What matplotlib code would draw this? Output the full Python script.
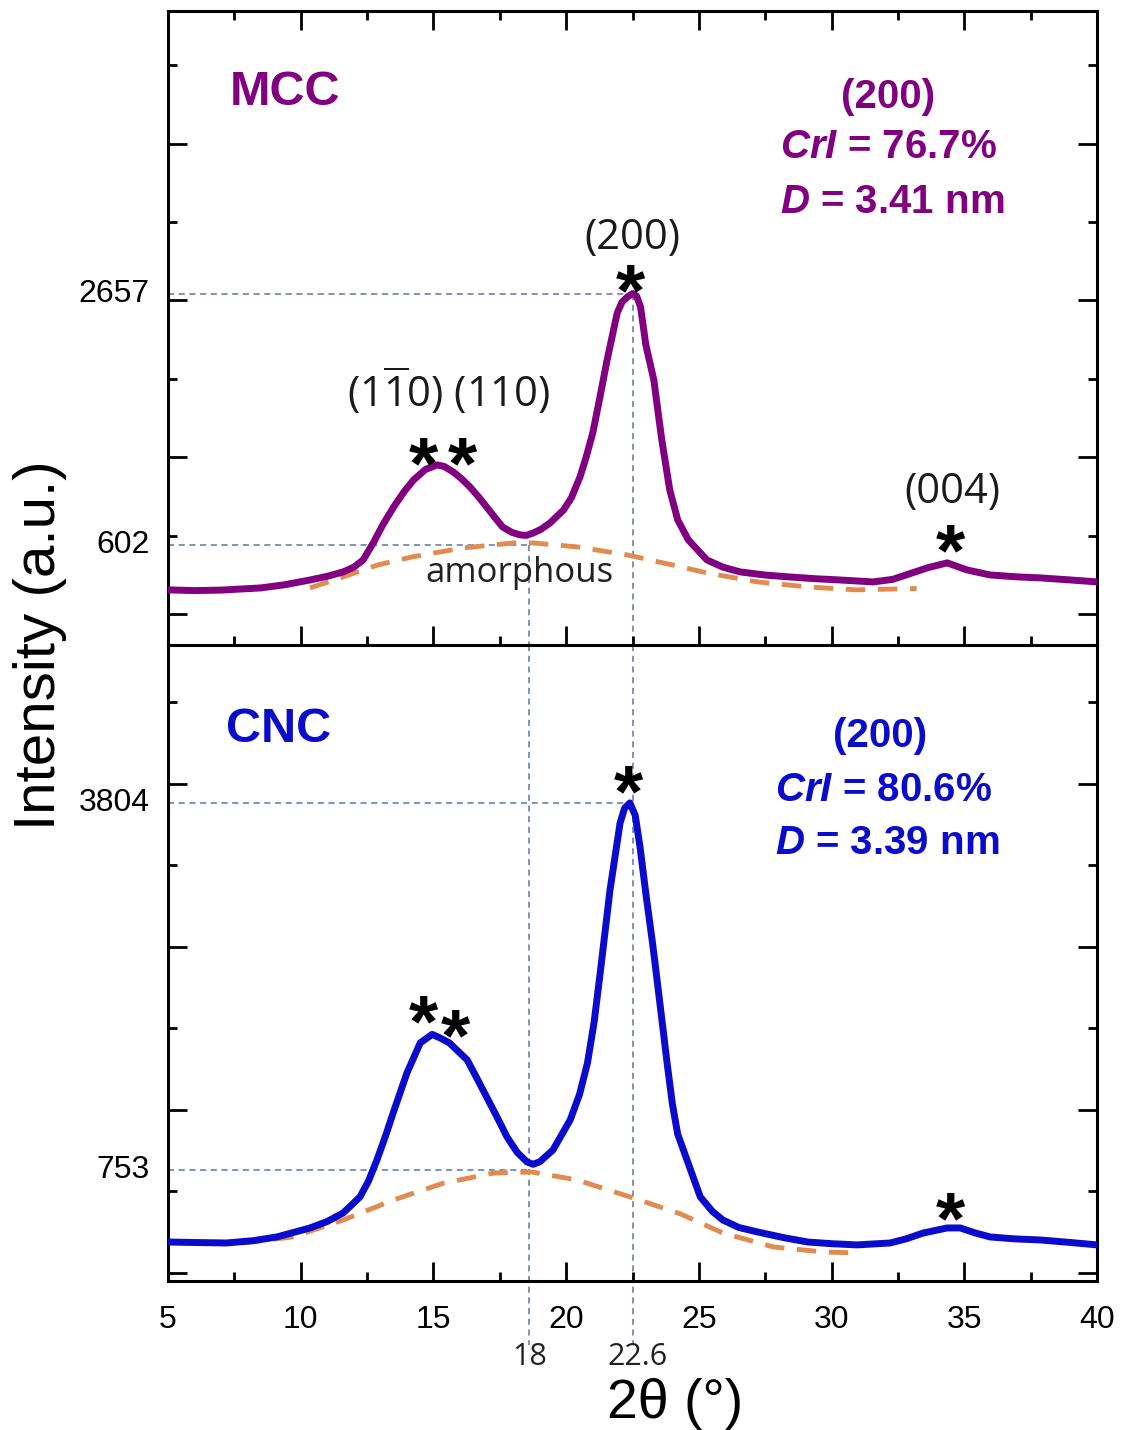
import matplotlib
matplotlib.use('Agg')
import matplotlib.pyplot as plt
import matplotlib.transforms as mtransforms

plt.rcParams['font.family'] = ['Liberation Sans', 'DejaVu Sans']
plt.rcParams['mathtext.fontset'] = 'custom'
plt.rcParams['mathtext.rm'] = 'Open Sans'
plt.rcParams['mathtext.bfit'] = 'Liberation Sans:italic:bold'

# ---- MCC pattern ----
mcc_theta = [5.0, 6.0, 7.0, 8.0, 8.5, 9.4, 10.35, 11.0, 11.6, 12.0, 12.35, 12.73,
             13.1, 13.5, 13.9, 14.25, 14.7, 15.13, 15.4, 15.74, 16.05, 16.37, 16.7,
             17.0, 17.3, 17.6, 17.95, 18.26, 18.5, 18.76, 19.05, 19.39, 19.9, 20.2,
             20.52, 20.75, 21.0, 21.25, 21.54, 21.92, 22.1, 22.3, 22.5, 22.65, 22.8,
             23.0, 23.3, 23.6, 23.9, 24.2, 24.6, 25.3, 25.9, 26.55, 27.5, 28.4, 29.4,
             30.3, 31.56, 32.3, 32.8, 33.6, 34.35, 35.1, 35.97, 37.0, 37.86, 39.0, 40.0]
mcc_counts = [234, 228, 232, 244, 250, 276, 315, 345, 381, 420, 479, 618,
              770, 913, 1040, 1134, 1220, 1257, 1245, 1200, 1145, 1077, 995,
              913, 830, 749, 705, 684, 680, 700, 730, 782, 888, 990,
              1159, 1320, 1519, 1790, 2116, 2501, 2590, 2632, 2660, 2640, 2551,
              2239, 1953, 1462, 1052, 807, 643, 479, 420, 381, 355, 340, 325,
              315, 299, 320, 356, 414, 455, 397, 356, 340, 332, 315, 299]
mcc_amor_theta = [10.35, 11.6, 12.9, 14.2, 16.1, 18.0, 18.76, 20.4, 22.3, 24.0,
                  25.3, 27.2, 29.1, 30.9, 33.2]
mcc_amor = [250, 340, 438, 504, 577, 618, 618, 586, 520, 438, 373, 299, 258, 234, 245]

# ---- CNC pattern ----
cnc_theta = [5.0, 6.0, 7.2, 8.2, 9.1, 10.35, 11.0, 11.6, 12.23, 12.55, 12.87, 13.2,
             13.48, 14.0, 14.5, 14.95, 15.25, 15.6, 16.27, 16.6, 17.0, 17.4, 17.77,
             18.15, 18.52, 18.75, 19.0, 19.5, 20.15, 20.5, 20.8, 21.05, 21.28, 21.65,
             22.03, 22.2, 22.4, 22.6, 22.78, 23.0, 23.27, 23.55, 23.8, 24.0, 24.2,
             24.55, 25.05, 25.5, 25.9, 26.5, 27.2, 28.2, 29.1, 30.0, 30.96, 32.2,
             32.8, 33.45, 34.35, 34.84, 35.4, 35.97, 36.9, 37.86, 39.0, 40.0]
cnc_counts = [154, 150, 146, 165, 196, 271, 325, 396, 529, 660, 836, 1040,
              1227, 1559, 1809, 1880, 1850, 1809, 1667, 1530, 1360, 1190, 1027,
              900, 820, 800, 820, 919, 1169, 1380, 1642, 1980, 2391, 3081,
              3638, 3760, 3804, 3700, 3438, 3050, 2607, 2100, 1642, 1300, 1050,
              836, 529, 410, 337, 275, 238, 190, 154, 140, 130, 146,
              180, 229, 271, 271, 230, 196, 180, 171, 150, 130]
cnc_amor_theta = [7.8, 9.7, 11.6, 13.5, 15.4, 17.3, 18.7, 20.4, 22.4, 22.8, 24.3,
                  25.9, 27.8, 29.7, 31.0]
cnc_amor = [146, 196, 337, 504, 645, 728, 736, 670, 529, 500, 388, 229, 113, 71, 63]

# guide values
mcc_peak, mcc_valley = 2657, 602
cnc_peak, cnc_valley = 3804, 753
theta_peak, theta_valley = 22.5, 18.6
theta_peak_label, theta_valley_label = '22.6', '18'

# asterisk positions (theta, counts)
mcc_stars = [(22.41, 2837), (14.61, 1421), (16.08, 1421), (34.46, 708)]
cnc_stars = [(22.33, 4053), (14.61, 2141), (15.81, 2025), (34.46, 504)]

mcc_info = ['(200)', r'$\mathbfit{CrI}$ = 76.7%', r'$\mathbfit{D}$ = 3.41 nm']
cnc_info = ['(200)', r'$\mathbfit{CrI}$ = 80.6%', r'$\mathbfit{D}$ = 3.39 nm']

purple = '#800080'
blue = '#0b0bcc'
orange = '#e08b4f'
guide = '#5577a8'

fig = plt.figure(figsize=(11.24, 14.3), dpi=100)
ax1 = fig.add_axes([0.1495, 0.549, 0.8266, 0.4433])
ax2 = fig.add_axes([0.1495, 0.1042, 0.8266, 0.4448])


def style(ax, ylim, major, minor, top):
    ax.set_xlim(5, 40)
    ax.set_ylim(*ylim)
    ax.set_xticks(range(5, 41, 5))
    ax.set_xticks([7.5 + 5 * i for i in range(7)], minor=True)
    ax.set_yticks(major)
    ax.set_yticks(minor, minor=True)
    ax.tick_params(which='both', direction='in', width=2, top=top, right=True,
                   labelleft=False)
    ax.tick_params(which='major', length=13.5)
    ax.tick_params(which='minor', length=6.5)
    for s in ax.spines.values():
        s.set_linewidth(2.2)


style(ax1, (-217, 4974), [37, 1321, 2605, 3889], [679, 1963, 3247, 4531], True)
style(ax2, (-170, 5117), [-103, 1253, 2609, 3965], [575, 1931, 3287, 4643], False)
ax1.tick_params(labelbottom=False)
ax2.tick_params(axis='x', labelsize=23, pad=17)

dash = dict(color=guide, lw=1.1, dashes=(4, 3), zorder=1)

# top panel
ax1.plot(mcc_amor_theta, mcc_amor, color=orange, lw=3.5, dashes=(4, 2.6), zorder=2)
ax1.plot(mcc_theta, mcc_counts, color=purple, lw=5, zorder=3)
ax1.plot([5, theta_peak], [mcc_peak, mcc_peak], **dash)
ax1.plot([5, theta_valley], [mcc_valley, mcc_valley], **dash)
ax1.plot([theta_peak, theta_peak], [mcc_peak, -217], **dash)
ax1.plot([theta_valley, theta_valley], [mcc_valley, -217], **dash)

# bottom panel
ax2.plot(cnc_amor_theta, cnc_amor, color=orange, lw=3.5, dashes=(4, 2.6), zorder=2)
ax2.plot(cnc_theta, cnc_counts, color=blue, lw=5, zorder=3)
ax2.plot([5, theta_peak], [cnc_peak, cnc_peak], **dash)
ax2.plot([5, theta_valley], [cnc_valley, cnc_valley], **dash)
ax2.plot([theta_peak, theta_peak], [5117, -700], clip_on=False, **dash)
ax2.plot([theta_valley, theta_valley], [5117, -700], clip_on=False, **dash)

# y value labels at the guide lines
for ax, vals in ((ax1, (mcc_peak, mcc_valley)), (ax2, (cnc_peak, cnc_valley))):
    for v in vals:
        ax.annotate(str(v), xy=(0, v), xycoords=('axes fraction', 'data'),
                    xytext=(-13, 0), textcoords='offset points',
                    ha='right', va='center', fontsize=23)

# theta labels under the axis
tr = mtransforms.blended_transform_factory(ax2.transData, fig.transFigure)
ax2.text(18.64, 0.0455, theta_valley_label, transform=tr, ha='center',
         va='baseline', fontsize=22, family='Open Sans', color='#222222')
ax2.text(22.7, 0.0455, theta_peak_label, transform=tr, ha='center',
         va='baseline', fontsize=22, family='Open Sans', color='#222222')

# asterisks
for ax, stars in ((ax1, mcc_stars), (ax2, cnc_stars)):
    for sx, sy in stars:
        ax.annotate('*', xy=(sx, sy), xytext=(0, -31), textcoords='offset points',
                    ha='center', va='baseline', fontsize=54, fontweight='bold',
                    zorder=5)

# reflection labels
ax1.text(22.48, 3025, '(200)', ha='center', va='baseline', fontsize=30,
         family='Open Sans', color='#1a1a1a')
ax1.text(15.57, 1732, r'(1$\overline{1}$0) (110)', ha='center', va='baseline',
         fontsize=30, family='Open Sans', color='#1a1a1a')
ax1.text(34.54, 946, '(004)', ha='center', va='baseline', fontsize=30,
         family='Open Sans', color='#1a1a1a')
ax1.text(18.23, 299, 'amorphous', ha='center', va='baseline', fontsize=25,
         family='Open Sans', color='#222222')

# sample names and crystallinity info
ax1.text(9.41, 4204, 'MCC', ha='center', va='baseline', fontsize=35,
         fontweight='bold', color=purple)
ax2.text(9.16, 4311, 'CNC', ha='center', va='baseline', fontsize=35,
         fontweight='bold', color=blue)

ax1.text(32.13, 4176, mcc_info[0], ha='center', va='baseline', fontsize=29,
         fontweight='bold', color=purple)
ax1.text(28.06, 3767, mcc_info[1], ha='left', va='baseline', fontsize=29,
         fontweight='bold', color=purple)
ax1.text(28.06, 3317, mcc_info[2], ha='left', va='baseline', fontsize=29,
         fontweight='bold', color=purple)

ax2.text(31.83, 4269, cnc_info[0], ha='center', va='baseline', fontsize=29,
         fontweight='bold', color=blue)
ax2.text(27.87, 3820, cnc_info[1], ha='left', va='baseline', fontsize=29,
         fontweight='bold', color=blue)
ax2.text(27.87, 3380, cnc_info[2], ha='left', va='baseline', fontsize=29,
         fontweight='bold', color=blue)

fig.text(0.036, 0.549, 'Intensity (a.u.)', rotation=90, ha='center', va='center',
         fontsize=42)
fig.text(675 / 1124, 0.0084, '2\u03b8 (\u00b0)', ha='center', va='baseline',
         fontsize=40)

fig.savefig('out.png', dpi=100)
